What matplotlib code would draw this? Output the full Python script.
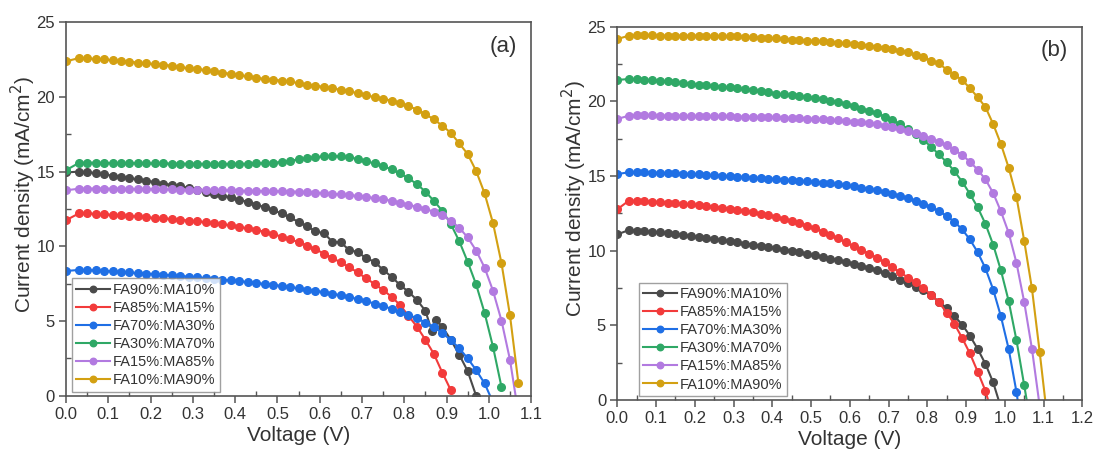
import numpy as np
import matplotlib
matplotlib.use("Agg")
import matplotlib.pyplot as plt
from matplotlib.ticker import MultipleLocator

plt.rcParams['font.family'] = ['Liberation Sans', 'DejaVu Sans']

# ---------------- data ----------------
labels = ["FA90%:MA10%", "FA85%:MA15%", "FA70%:MA30%",
          "FA30%:MA70%", "FA15%:MA85%", "FA10%:MA90%"]
colors = ["#4a4a4a", "#f23b3b", "#1f6fe5", "#2fa866", "#b27ae0", "#d3a012"]

# measurement voltage grid (V)
V = [0.00, 0.03, 0.05, 0.07, 0.09, 0.11, 0.13, 0.15, 0.17, 0.19, 0.21, 0.23,
     0.25, 0.27, 0.29, 0.31, 0.33, 0.35, 0.37, 0.39, 0.41, 0.43, 0.45, 0.47,
     0.49, 0.51, 0.53, 0.55, 0.57, 0.59, 0.61, 0.63, 0.65, 0.67, 0.69, 0.71,
     0.73, 0.75, 0.77, 0.79, 0.81, 0.83, 0.85, 0.87, 0.89, 0.91, 0.93, 0.95,
     0.97, 0.99, 1.01, 1.03, 1.05, 1.07, 1.09, 1.11]

# ---- panel (a) ----
a_black_tail_v = [0.865, 0.875, 0.89, 0.91, 0.93, 0.95, 0.97]
a_black = [14.95, 15.00, 14.97, 14.90, 14.82, 14.73, 14.65, 14.57, 14.48, 14.40,
           14.30, 14.20, 14.12, 14.02, 13.92, 13.80, 13.65, 13.50, 13.40, 13.28,
           13.12, 12.97, 12.80, 12.62, 12.42, 12.20, 11.95, 11.62, 11.35, 11.00,
           10.88, 10.31, 10.26, 9.75, 9.62, 9.20, 8.97, 8.42, 7.97, 7.41,
           6.96, 6.41, 5.69,
           4.35, 5.07, 4.62, 3.75, 2.75, 1.65, 0.00]
a_red = [11.75, 12.20, 12.20, 12.18, 12.15, 12.10, 12.07, 12.03, 12.00, 11.95,
         11.90, 11.87, 11.83, 11.78, 11.73, 11.68, 11.62, 11.55, 11.48, 11.40,
         11.30, 11.20, 11.10, 10.97, 10.82, 10.65, 10.47, 10.28, 10.05, 9.80,
         9.52, 9.22, 8.92, 8.60, 8.25, 7.85, 7.48, 7.07, 6.63, 6.07,
         5.35, 4.62, 3.75, 2.80, 1.55, 0.38]
a_blue = [8.35, 8.42, 8.41, 8.39, 8.36, 8.32, 8.28, 8.25, 8.21, 8.18,
          8.14, 8.10, 8.06, 8.02, 7.97, 7.92, 7.87, 7.82, 7.77, 7.72,
          7.67, 7.61, 7.55, 7.48, 7.42, 7.35, 7.27, 7.19, 7.10, 7.02,
          6.93, 6.83, 6.72, 6.60, 6.47, 6.33, 6.17, 6.00, 5.82, 5.62,
          5.42, 5.18, 4.90, 4.58, 4.20, 3.73, 3.18, 2.50, 1.72, 0.83, -0.45]
a_green = [15.10, 15.58, 15.60, 15.60, 15.58, 15.58, 15.57, 15.57, 15.56, 15.55,
           15.55, 15.55, 15.54, 15.54, 15.53, 15.53, 15.52, 15.52, 15.52, 15.52,
           15.53, 15.53, 15.55, 15.57, 15.60, 15.65, 15.72, 15.82, 15.90, 15.97,
           16.02, 16.05, 16.02, 15.96, 15.85, 15.70, 15.55, 15.37, 15.15, 14.88,
           14.55, 14.17, 13.66, 13.05, 12.38, 11.50, 10.35, 8.97, 7.45, 5.55,
           3.27, 0.59]
a_purple = [13.75, 13.86, 13.87, 13.87, 13.87, 13.86, 13.86, 13.85, 13.84, 13.83,
            13.83, 13.82, 13.81, 13.80, 13.79, 13.78, 13.77, 13.76, 13.75, 13.74,
            13.73, 13.72, 13.71, 13.70, 13.69, 13.68, 13.67, 13.66, 13.63, 13.60,
            13.56, 13.52, 13.48, 13.43, 13.38, 13.31, 13.23, 13.15, 13.05, 12.92,
            12.78, 12.65, 12.50, 12.32, 12.10, 11.72, 11.25, 10.60, 9.72, 8.58,
            7.02, 5.03, 2.42, -1.20]
a_gold = [22.39, 22.60, 22.58, 22.55, 22.52, 22.46, 22.40, 22.37, 22.30, 22.25,
          22.20, 22.15, 22.10, 22.00, 21.92, 21.88, 21.80, 21.72, 21.62, 21.55,
          21.46, 21.38, 21.30, 21.20, 21.15, 21.10, 21.04, 20.92, 20.82, 20.75,
          20.68, 20.58, 20.48, 20.38, 20.25, 20.10, 20.00, 19.88, 19.75, 19.60,
          19.40, 19.15, 18.85, 18.50, 18.08, 17.60, 16.90, 16.18, 15.05, 13.55,
          11.55, 8.88, 5.40, 0.85]

# ---- panel (b) ----
b_black = [11.09, 11.38, 11.35, 11.30, 11.26, 11.22, 11.16, 11.10, 11.04, 10.98,
           10.92, 10.85, 10.78, 10.71, 10.64, 10.56, 10.48, 10.40, 10.33, 10.25,
           10.16, 10.07, 9.98, 9.88, 9.78, 9.68, 9.57, 9.47, 9.36, 9.25,
           9.13, 9.00, 8.85, 8.70, 8.50, 8.30, 8.07, 7.84, 7.60, 7.35,
           7.00, 6.58, 6.15, 5.62, 5.05, 4.30, 3.42, 2.42, 1.18, -0.50]
b_red = [12.77, 13.35, 13.34, 13.31, 13.29, 13.26, 13.22, 13.17, 13.13, 13.10,
         13.05, 13.00, 12.95, 12.88, 12.82, 12.75, 12.66, 12.56, 12.46, 12.36,
         12.25, 12.12, 11.99, 11.85, 11.68, 11.50, 11.28, 11.05, 10.82, 10.55,
         10.30, 10.05, 9.80, 9.52, 9.22, 8.88, 8.55, 8.20, 7.88, 7.50,
         7.05, 6.55, 5.85, 5.10, 4.15, 3.12, 1.90, 0.62, -1.20]
b_blue = [15.13, 15.25, 15.25, 15.24, 15.23, 15.22, 15.20, 15.18, 15.16, 15.14,
          15.11, 15.08, 15.05, 15.02, 14.99, 14.96, 14.93, 14.90, 14.86, 14.83,
          14.80, 14.76, 14.72, 14.68, 14.64, 14.60, 14.55, 14.50, 14.44, 14.37,
          14.30, 14.22, 14.13, 14.04, 13.93, 13.80, 13.66, 13.50, 13.33, 13.12,
          12.92, 12.65, 12.32, 11.94, 11.42, 10.75, 9.90, 8.82, 7.40, 5.60,
          3.42, 0.56, -3.00]
b_green = [21.43, 21.50, 21.48, 21.45, 21.42, 21.38, 21.33, 21.28, 21.22, 21.16,
           21.12, 21.07, 21.02, 20.98, 20.94, 20.88, 20.82, 20.76, 20.68, 20.60,
           20.52, 20.46, 20.40, 20.34, 20.28, 20.22, 20.14, 20.05, 19.93, 19.80,
           19.66, 19.52, 19.37, 19.20, 18.98, 18.74, 18.47, 18.15, 17.80, 17.42,
           16.95, 16.45, 15.92, 15.32, 14.62, 13.80, 12.90, 11.80, 10.40, 8.68,
           6.63, 4.02, 1.00, -2.10]
b_purple = [18.82, 19.04, 19.07, 19.07, 19.06, 19.05, 19.04, 19.04, 19.03, 19.02,
            19.02, 19.01, 19.00, 19.00, 18.99, 18.98, 18.98, 18.97, 18.96, 18.94,
            18.92, 18.91, 18.89, 18.87, 18.85, 18.82, 18.79, 18.76, 18.72, 18.69,
            18.65, 18.60, 18.55, 18.47, 18.38, 18.28, 18.16, 18.02, 17.86, 17.68,
            17.50, 17.30, 17.05, 16.76, 16.40, 15.96, 15.42, 14.78, 13.86, 12.63,
            11.20, 9.20, 6.58, 3.44, -0.40]
b_gold = [24.17, 24.40, 24.42, 24.42, 24.41, 24.40, 24.40, 24.40, 24.40, 24.40,
          24.40, 24.39, 24.38, 24.37, 24.36, 24.35, 24.33, 24.30, 24.27, 24.24,
          24.21, 24.18, 24.14, 24.10, 24.07, 24.04, 24.01, 23.98, 23.93, 23.88,
          23.84, 23.80, 23.74, 23.67, 23.58, 23.50, 23.40, 23.28, 23.12, 22.95,
          22.72, 22.55, 22.12, 21.77, 21.43, 20.88, 20.28, 19.62, 18.48, 17.14,
          15.56, 13.62, 10.67, 7.48, 3.22, -1.30]

panel_a = [a_black, a_red, a_blue, a_green, a_purple, a_gold]
panel_b = [b_black, b_red, b_blue, b_green, b_purple, b_gold]

# ---------------- figure ----------------
fig = plt.figure(figsize=(10.95, 4.57), dpi=100)
ax_a = fig.add_axes([0.0603, 0.1341, 0.4247, 0.8171])
ax_b = fig.add_axes([0.5637, 0.1247, 0.4247, 0.8169])

spine_col = "#555555"
text_col = "#333333"


def style(ax, xmax, tag):
    ax.set_xlim(0, xmax)
    ax.set_ylim(0, 25)
    ax.xaxis.set_major_locator(MultipleLocator(0.1))
    ax.xaxis.set_minor_locator(MultipleLocator(0.05))
    ax.yaxis.set_major_locator(MultipleLocator(5))
    ax.yaxis.set_minor_locator(MultipleLocator(2.5))
    ax.tick_params(which="major", direction="out", length=5, width=1.1,
                   color=spine_col, labelsize=12, labelcolor=text_col, pad=3)
    ax.tick_params(which="minor", direction="in", length=3.5, width=1.0,
                   color=spine_col)
    ax.xaxis.set_major_formatter(matplotlib.ticker.FormatStrFormatter("%.1f"))
    for s in ax.spines.values():
        s.set_color(spine_col)
        s.set_linewidth(1.2)
    ax.set_xlabel("Voltage (V)", fontsize=15, color=text_col, labelpad=3)
    ax.set_ylabel("Current density (mA/cm$^2$)", fontsize=15, color=text_col)
    ax.yaxis.set_label_coords(-0.06, 0.54)
    ax.text(0.97, 0.935, tag, transform=ax.transAxes, ha="right", va="center",
            fontsize=16, color=text_col)


for ys, lab, c in zip(panel_a, labels, colors):
    if ys is a_black:
        xs = V[:43] + a_black_tail_v
    else:
        xs = V[:len(ys)]
    ax_a.plot(xs, ys, '-o', color=c, lw=1.5, ms=5.5, label=lab)

for ys, lab, c in zip(panel_b, labels, colors):
    ax_b.plot(V[:len(ys)], ys, '-o', color=c, lw=1.5, ms=5.5, label=lab)

style(ax_a, 1.1, "(a)")
style(ax_b, 1.2, "(b)")

leg_kw = dict(loc="lower left", fontsize=10.5, frameon=True, fancybox=False,
              edgecolor="#888888", borderaxespad=0, handlelength=2.3,
              handletextpad=0.2, labelspacing=0.28, borderpad=0.3,
              markerscale=0.85)
la = ax_a.legend(bbox_to_anchor=(0.013, 0.011), **leg_kw)
lb = ax_b.legend(bbox_to_anchor=(0.047, 0.011), **leg_kw)
for lg in (la, lb):
    lg.get_frame().set_linewidth(1.0)
    for t in lg.get_texts():
        t.set_color(text_col)

fig.savefig("out.png", dpi=100)
